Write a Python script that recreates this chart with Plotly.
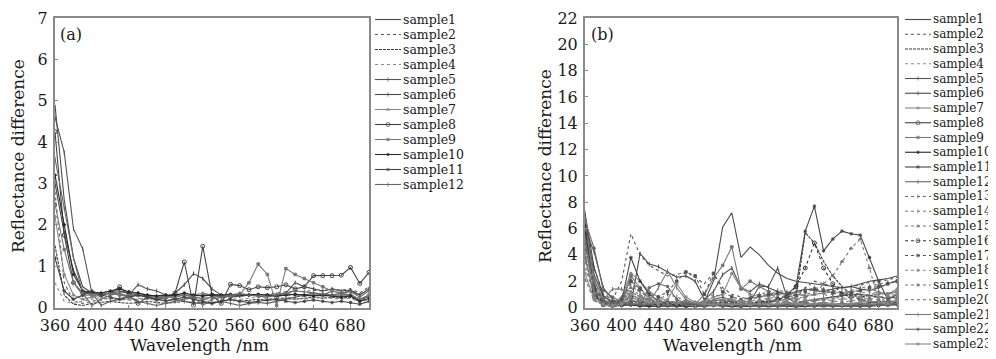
import plotly.graph_objects as go

# ---------------- data ----------------
wavelength = list(range(360, 701, 10))
x_ticks = [360, 400, 440, 480, 520, 560, 600, 640, 680]
a_yticks = [0, 1, 2, 3, 4, 5, 6, 7]
b_yticks = list(range(0, 23, 2))

a_sample1 = [4.9,2.6,1.2,0.5,0.35,0.35,0.4,0.4,0.35,0.3,0.3,0.28,0.25,0.3,0.3,0.28,0.3,0.32,0.3,0.3,0.3,0.32,0.3,0.3,0.28,0.3,0.32,0.3,0.3,0.28,0.3,0.3,0.32,0.18,0.28]
a_sample2 = [2.8,0.6,0.15,0.1,0.15,0.2,0.22,0.2,0.18,0.2,0.22,0.2,0.18,0.2,0.25,0.22,0.2,0.22,0.25,0.25,0.28,0.3,0.3,0.32,0.35,0.38,0.4,0.38,0.42,0.4,0.45,0.42,0.45,0.35,0.5]
a_sample3 = [1.5,0.3,0.08,0.05,0.1,0.12,0.15,0.12,0.1,0.12,0.15,0.12,0.1,0.12,0.15,0.12,0.1,0.12,0.15,0.18,0.15,0.18,0.2,0.18,0.2,0.22,0.2,0.22,0.25,0.22,0.25,0.22,0.25,0.15,0.28]
a_sample4 = [0.6,0.15,0.1,0.15,0.2,0.25,0.2,0.18,0.2,0.22,0.2,0.18,0.2,0.18,0.2,0.22,0.2,0.18,0.2,0.22,0.2,0.22,0.25,0.22,0.2,0.25,0.22,0.2,0.22,0.25,0.22,0.2,0.22,0.12,0.2]
a_sample5 = [4.6,3.75,1.9,1.42,0.35,0.05,0.15,0.2,0.3,0.55,0.45,0.4,0.3,0.2,0.15,0.1,0.12,0.1,0.15,0.1,0.05,0.1,0.12,0.1,0.15,0.2,0.25,0.3,0.35,0.3,0.4,0.35,0.4,0.3,0.45]
a_sample6 = [3.0,1.8,0.9,0.4,0.3,0.3,0.35,0.38,0.35,0.3,0.28,0.25,0.22,0.35,0.55,0.82,0.7,0.45,0.3,0.25,0.28,0.3,0.3,0.28,0.3,0.35,0.6,0.5,0.45,0.4,0.45,0.4,0.42,0.3,0.45]
a_sample7 = [2.2,0.8,0.3,0.2,0.25,0.3,0.35,0.3,0.3,0.35,0.3,0.25,0.3,0.25,0.3,0.3,0.35,0.3,0.25,0.3,0.35,0.3,0.28,0.3,0.32,0.35,0.3,0.28,0.3,0.32,0.3,0.28,0.3,0.2,0.3]
a_sample8 = [4.25,1.75,0.6,0.35,0.35,0.3,0.35,0.5,0.3,0.1,0.25,0.2,0.25,0.35,1.1,0.05,1.48,0.3,0.1,0.56,0.53,0.43,0.5,0.48,0.5,0.55,0.45,0.5,0.77,0.77,0.77,0.78,0.97,0.58,0.85]
a_sample9 = [2.5,1.4,0.6,0.3,0.3,0.32,0.35,0.3,0.28,0.3,0.25,0.22,0.25,0.28,0.3,0.25,0.22,0.25,0.28,0.3,0.3,0.6,1.05,0.8,0.05,0.94,0.8,0.7,0.6,0.5,0.4,0.35,0.3,0.2,0.3]
a_sample10 = [3.2,2.0,0.8,0.4,0.38,0.35,0.4,0.45,0.38,0.35,0.3,0.28,0.3,0.3,0.35,0.3,0.28,0.3,0.3,0.32,0.3,0.3,0.32,0.3,0.28,0.3,0.32,0.3,0.28,0.3,0.28,0.25,0.28,0.15,0.22]
a_sample11 = [1.2,0.4,0.2,0.3,0.4,0.3,0.25,0.2,0.25,0.3,0.25,0.2,0.15,0.2,0.25,0.2,0.15,0.1,0.15,0.2,0.15,0.12,0.15,0.18,0.2,0.15,0.12,0.15,0.18,0.15,0.12,0.15,0.12,0.08,0.15]
a_sample12 = [3.6,2.4,1.2,0.35,0.05,0.2,0.3,0.35,0.25,0.15,0.1,0.05,0.1,0.15,0.2,0.25,0.05,0.2,0.25,0.3,0.32,0.3,0.28,0.25,0.3,0.35,0.4,0.38,0.35,0.32,0.3,0.35,0.38,0.25,0.4]

b_sample1 = [6.8,2.5,0.8,0.5,0.3,0.5,0.4,0.3,0.35,0.3,0.25,0.3,0.3,0.4,2.0,6.1,7.2,3.8,4.6,4.0,3.2,2.6,2.2,2.0,1.9,1.8,1.7,1.6,1.5,1.6,1.8,2.0,2.1,2.2,2.4]
b_sample2 = [5.5,3.0,1.0,0.6,2.0,5.6,4.0,3.2,2.8,2.4,2.5,2.7,2.3,1.8,2.6,1.5,1.0,0.8,0.6,0.8,1.0,1.2,1.0,0.9,1.5,2.0,1.8,1.6,1.5,1.6,1.7,1.9,2.0,2.1,2.3]
b_sample3 = [4.5,1.5,0.5,0.3,0.5,1.2,0.8,0.5,0.4,0.3,0.3,0.25,0.2,0.3,0.5,0.6,0.4,0.3,0.35,0.4,0.45,0.5,0.6,0.8,5.7,4.9,3.5,2.4,1.6,1.0,0.8,0.9,1.0,1.1,1.2]
b_sample4 = [3.0,1.0,0.4,0.3,0.6,1.6,1.2,0.8,0.5,0.4,0.3,0.3,0.2,0.3,0.5,0.4,0.3,0.3,0.4,0.4,0.5,0.6,0.7,0.6,0.5,0.6,0.7,0.8,0.9,1.0,1.1,1.2,1.1,1.0,1.2]
b_sample5 = [6.0,4.2,1.5,0.6,0.3,1.0,0.6,0.4,0.3,0.3,0.4,0.3,0.2,0.3,0.6,0.8,0.5,0.4,0.5,1.6,1.6,3.0,0.8,0.3,0.5,0.6,0.7,0.8,0.9,1.0,1.0,0.9,0.8,0.7,0.8]
b_sample6 = [7.2,3.0,0.9,0.4,0.3,0.2,4.1,3.3,3.1,2.7,2.3,2.4,2.0,0.6,1.2,2.5,3.0,1.5,1.2,1.8,1.5,1.2,1.0,1.2,1.4,1.3,1.2,1.4,1.5,1.6,1.4,1.3,1.5,1.8,2.0]
b_sample7 = [5.2,2.0,0.6,0.3,0.8,2.6,2.0,1.2,0.8,0.5,0.4,0.5,0.3,0.4,0.8,1.0,2.6,1.5,1.0,0.8,0.9,1.0,1.1,1.0,0.9,1.0,1.1,1.2,1.1,1.2,1.3,1.4,1.2,1.0,1.4]
b_sample8 = [5.8,1.2,0.2,0.1,0.2,0.3,0.2,0.15,0.1,0.2,0.15,0.1,0.1,0.15,0.2,0.15,0.1,0.15,0.2,0.15,0.1,0.15,0.2,0.15,0.2,0.15,0.1,0.15,0.2,0.15,0.2,0.15,0.2,0.25,0.3]
b_sample9 = [6.5,2.2,0.5,0.3,0.4,2.4,1.5,0.6,0.4,0.3,0.2,0.3,0.2,1.0,2.2,3.2,4.6,1.4,2.0,1.6,1.2,0.6,0.4,0.2,0.3,0.2,0.3,0.2,0.3,0.2,0.3,0.2,0.3,0.2,0.4]
b_sample10 = [6.2,1.0,0.2,0.1,0.15,0.2,0.1,0.1,0.05,0.1,0.1,0.05,0.1,0.1,0.15,0.1,0.1,0.05,0.1,0.1,0.15,0.1,0.1,0.05,0.1,0.1,0.15,0.1,0.1,0.1,0.05,0.1,0.15,0.2,0.25]
b_sample11 = [5.0,1.5,0.4,0.2,0.5,3.8,2.0,1.0,0.5,0.3,0.2,0.3,0.2,0.3,0.4,0.3,0.2,0.3,0.2,0.3,0.4,0.5,1.0,1.6,5.8,7.7,4.3,5.2,5.8,5.6,5.5,3.8,2.0,0.6,1.0]
b_sample12 = [4.0,0.8,0.3,0.2,0.3,0.2,0.3,0.2,0.3,0.2,0.2,0.3,0.2,0.25,0.3,0.2,0.3,0.25,0.2,0.3,0.25,0.2,0.3,0.25,0.2,0.3,0.25,0.2,0.3,0.25,0.3,0.35,0.4,0.45,0.5]
b_sample13 = [6.0,1.8,0.4,0.2,0.6,2.2,1.0,0.5,0.6,1.0,0.8,0.5,0.3,0.5,1.0,0.8,0.6,0.5,0.8,1.0,1.2,1.3,1.2,1.1,1.3,1.5,1.4,1.3,1.2,1.3,1.5,1.6,1.8,1.9,2.0]
b_sample14 = [3.5,0.9,0.3,0.2,0.4,1.8,1.2,0.8,0.6,0.5,0.4,0.3,0.4,0.5,0.6,0.5,0.4,0.5,0.6,0.8,0.9,1.0,0.9,0.8,1.0,1.2,1.0,0.8,0.7,0.8,0.9,1.0,1.1,1.0,1.2]
b_sample15 = [4.8,1.4,0.5,0.3,0.5,1.5,0.9,0.6,0.5,0.4,0.3,0.4,0.3,0.4,0.5,0.6,0.5,0.4,0.5,0.6,0.7,0.8,0.9,0.7,0.8,1.0,1.8,2.4,3.5,4.5,5.2,3.0,0.5,0.8,1.0]
b_sample16 = [5.5,1.3,0.3,0.2,0.3,0.8,0.5,0.3,0.2,0.3,0.2,0.2,0.3,0.2,0.3,0.4,0.3,0.2,0.3,0.4,0.5,0.6,0.8,1.6,3.0,4.9,3.0,1.8,1.0,0.8,0.6,0.5,0.4,0.3,0.4]
b_sample17 = [5.0,1.6,0.6,0.4,0.6,2.0,1.4,1.0,0.8,1.2,2.0,2.7,2.4,1.0,2.6,1.2,0.8,0.6,0.7,0.9,1.0,1.1,1.0,0.9,1.2,1.4,1.3,1.1,1.0,1.1,1.3,1.5,1.6,1.8,2.0]
b_sample18 = [4.2,1.1,0.3,0.2,0.4,1.2,0.8,0.5,0.4,0.3,0.3,0.4,0.3,0.3,0.4,0.5,0.6,0.5,0.4,0.5,0.6,0.5,0.6,0.7,0.6,0.5,0.6,0.7,0.6,0.7,0.8,0.7,0.8,0.9,1.0]
b_sample19 = [3.8,0.7,0.2,0.1,0.2,0.6,0.4,0.3,0.2,0.2,0.3,0.2,0.1,0.2,0.3,0.2,0.2,0.3,0.2,0.3,0.4,0.3,0.4,0.5,0.4,0.5,0.6,0.5,0.4,0.5,0.6,0.7,0.6,0.5,0.7]
b_sample20 = [2.2,0.5,0.2,0.1,0.2,0.5,0.3,0.2,0.1,0.2,0.1,0.2,0.1,0.1,0.2,0.1,0.2,0.1,0.2,0.3,0.2,0.3,0.2,0.3,0.4,0.3,0.4,0.3,0.2,0.3,0.4,0.3,0.4,0.3,0.5]
b_sample21 = [5.3,1.2,0.6,1.4,1.4,0.8,0.5,0.4,1.5,2.8,1.5,0.6,0.3,0.2,0.3,0.2,0.3,0.2,0.3,0.2,0.3,0.2,0.3,0.2,0.3,0.2,0.3,0.2,0.3,0.2,0.3,0.2,0.3,0.2,0.3]
b_sample22 = [6.6,4.5,1.3,0.8,0.4,0.3,0.2,1.5,1.8,1.6,0.6,0.3,0.2,0.1,0.2,0.1,0.2,0.1,0.15,0.1,0.2,0.1,0.15,0.1,0.2,0.1,0.15,0.1,0.2,0.1,0.15,0.1,0.2,0.15,0.2]
b_sample23 = [2.6,0.6,0.2,0.1,0.3,1.0,0.6,0.4,0.3,0.6,1.8,0.8,0.4,0.3,0.2,0.3,0.2,0.3,0.2,0.3,0.2,0.3,0.4,0.3,0.2,0.3,0.4,0.3,0.2,0.3,0.4,0.5,0.4,0.3,0.5]

a_series = [a_sample1, a_sample2, a_sample3, a_sample4, a_sample5, a_sample6,
            a_sample7, a_sample8, a_sample9, a_sample10, a_sample11, a_sample12]
b_series = [b_sample1, b_sample2, b_sample3, b_sample4, b_sample5, b_sample6,
            b_sample7, b_sample8, b_sample9, b_sample10, b_sample11, b_sample12,
            b_sample13, b_sample14, b_sample15, b_sample16, b_sample17, b_sample18,
            b_sample19, b_sample20, b_sample21, b_sample22, b_sample23]
a_names = [f"sample{i}" for i in range(1, 13)]
b_names = [f"sample{i}" for i in range(1, 24)]

# ---------------- styles ----------------
STY = [
    dict(c="#4a4a4a", d="solid", s=None),
    dict(c="#555555", d="dot", s=None),
    dict(c="#3a3a3a", d="3px,1px", s=None),
    dict(c="#8a8a8a", d="dot", s=None),
    dict(c="#555555", d="solid", s="line-ns-open", z=3),
    dict(c="#4a4a4a", d="solid", s="line-ns-open", z=3),
    dict(c="#888888", d="solid", s="triangle-up", z=3),
    dict(c="#444444", d="solid", s="circle-open", z=4),
    dict(c="#777777", d="solid", s="square", z=2.5),
    dict(c="#2a2a2a", d="solid", s="circle", z=2.5),
    dict(c="#444444", d="solid", s="asterisk-open", z=3),
    dict(c="#666666", d="solid", s="line-ns-open", z=3),
    dict(c="#666666", d="dot", s="line-ns-open", z=3),
    dict(c="#777777", d="dot", s="line-ns-open", z=3),
    dict(c="#777777", d="dot", s="triangle-up", z=3),
    dict(c="#333333", d="dot", s="circle-open", z=4),
    dict(c="#555555", d="dot", s="square", z=2.5),
    dict(c="#888888", d="dot", s="circle", z=2.5),
    dict(c="#777777", d="dot", s="asterisk-open", z=3),
    dict(c="#666666", d="dot", s=None),
    dict(c="#777777", d="solid", s="line-ns-open", z=3),
    dict(c="#666666", d="solid", s="circle", z=2.5),
    dict(c="#888888", d="solid", s="asterisk-open", z=3),
]

W, H = 996, 359
OFF = 8  # page body margin: window pixel = figure pixel + OFF
FONT = "DejaVu Serif"
TXT = "#1a1a1a"


def px(x):
    return (x - OFF) / W


def py(y):
    return 1 - (y - OFF) / H


fig = go.Figure()


def add_series(series, names, xa, ya):
    for i, (vals, nm) in enumerate(zip(series, names)):
        st = STY[i]
        mode = "lines+markers" if st["s"] else "lines"
        kw = {}
        if st["s"]:
            kw["marker"] = dict(symbol=st["s"], size=st["z"], color=st["c"],
                                line=dict(width=1, color=st["c"]))
        fig.add_trace(go.Scatter(x=wavelength, y=vals, name=nm, mode=mode,
                                 line=dict(color=st["c"], width=1.1, dash=st["d"]),
                                 xaxis=xa, yaxis=ya, showlegend=False, **kw))


add_series(a_series, a_names, "x", "y")
add_series(b_series, b_names, "x2", "y2")


# custom legends drawn on a hidden overlay axis measured in window pixels
def add_legend(names, sx0, sx1, tx, y0, dy, fsize):
    for i, nm in enumerate(names):
        st = STY[i]
        yy = y0 + dy * i
        mid = (sx0 + sx1) / 2
        kw = {}
        mode = "lines"
        if st["s"]:
            mode = "lines+markers"
            kw["marker"] = dict(symbol=st["s"], size=[0, st["z"], 0], color=st["c"],
                                line=dict(width=1, color=st["c"]))
        fig.add_trace(go.Scatter(x=[sx0, mid, sx1], y=[yy, yy, yy], mode=mode,
                                 line=dict(color=st["c"], width=1.1, dash=st["d"]),
                                 xaxis="x3", yaxis="y3", showlegend=False,
                                 hoverinfo="skip", **kw))
        fig.add_annotation(x=px(tx), y=py(yy), xref="paper", yref="paper",
                           text=nm, showarrow=False, xanchor="left", yanchor="middle",
                           xshift=-1, font=dict(family=FONT, size=fsize, color=TXT))


add_legend(a_names, 375, 401, 402, 19.5, 15.0, 12.5)
add_legend(b_names, 905, 931, 932, 19.5, 14.75, 12.0)

ax_common = dict(showgrid=False, zeroline=False, showline=True, mirror=True,
                 linecolor="#8a8a8a", linewidth=2, ticks="inside", ticklen=3,
                 tickcolor="#8a8a8a", automargin=False,
                 tickfont=dict(family=FONT, size=16, color=TXT))

ytop, ybot = py(18), py(307.5)
fig.update_layout(
    template="none",
    width=W, height=H, margin=dict(l=0, r=0, t=0, b=0, pad=0, autoexpand=False),
    paper_bgcolor="white", plot_bgcolor="rgba(0,0,0,0)",
    xaxis=dict(domain=[px(55), px(369)], range=[360, 700], tickvals=x_ticks,
               anchor="y", ticklabelstandoff=2, **ax_common),
    yaxis=dict(domain=[ybot, ytop], range=[0, 7], tickvals=a_yticks,
               anchor="x", ticklabelstandoff=2, **ax_common),
    xaxis2=dict(domain=[px(585), px(897)], range=[360, 700], tickvals=x_ticks,
                anchor="y2", ticklabelstandoff=2, **ax_common),
    yaxis2=dict(domain=[ybot, ytop], range=[0, 22], tickvals=b_yticks,
                anchor="x2", ticklabelstandoff=2, **ax_common),
    xaxis3=dict(domain=[0, 1], range=[OFF, W + OFF], visible=False, anchor="y3",
                fixedrange=True, automargin=False),
    yaxis3=dict(domain=[0, 1], range=[H + OFF, OFF], visible=False, anchor="x3",
                fixedrange=True, automargin=False),
    showlegend=False,
)


# titles and panel labels
def ann(text, x, y, size=17, angle=0, xanchor="center"):
    fig.add_annotation(x=px(x), y=py(y), xref="paper", yref="paper", text=text,
                       showarrow=False, textangle=angle, xanchor=xanchor, yanchor="middle",
                       font=dict(family=FONT, size=size, color=TXT))


ann("Reflectance difference", 18, 156, angle=-90)
ann("Reflectance difference", 545, 166, angle=-90)
ann("Wavelength /nm", 199, 345)
ann("Wavelength /nm", 732, 345)
ann("(a)", 58, 34, size=16, xanchor="left")
ann("(b)", 589, 34, size=16, xanchor="left")

fig.write_html("out.html")
